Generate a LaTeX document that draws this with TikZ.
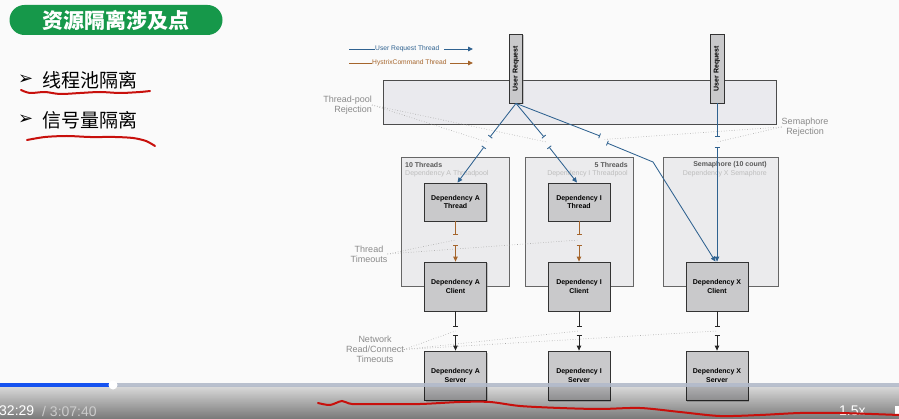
\documentclass[tikz,border=0pt]{standalone}
\usepackage{graphicx}
\usepackage{fontspec}
\setmainfont{Liberation Sans}
\newfontfamily\cjk{Noto Sans CJK SC}
\newfontfamily\dejavu{DejaVu Sans}
\usetikzlibrary{arrows.meta,shadows,fadings}
\definecolor{bgc}{HTML}{FAFAFA}
\definecolor{ttlgreen}{HTML}{16984A}
\definecolor{urblue}{HTML}{2F6290}
\definecolor{hxbrown}{HTML}{A5652C}
\definecolor{boxfill}{HTML}{C9C9CB}
\definecolor{grpfill}{HTML}{EBEBED}
\definecolor{poolfill}{HTML}{EAEAEE}
\definecolor{lbl}{HTML}{8A8A8A}
\definecolor{faint}{HTML}{BDBDBD}
\definecolor{pen}{HTML}{C8100C}
\definecolor{progblue}{HTML}{1552F0}
\definecolor{proggray}{HTML}{B2BACA}
\tikzset{
  shad/.style={drop shadow={shadow xshift=1.2pt, shadow yshift=-1.5pt, opacity=0.4}},
  innerbox/.style={draw=black!80, line width=0.8pt, fill=boxfill, minimum width=62pt, minimum height=38pt, inner sep=0pt, align=center, font=\fontsize{7}{8.5}\selectfont\bfseries, shad},
  grpbox/.style={draw=black!60, line width=0.8pt, fill=grpfill, minimum height=129pt, inner sep=0pt, shad},
  urbox/.style={draw=black!80, line width=0.8pt, fill=boxfill, minimum width=13pt, minimum height=69pt, inner sep=0pt, font=\fontsize{7}{7}\selectfont\bfseries, shad},
  bl/.style={draw=urblue, line width=0.85pt},
  br/.style={draw=hxbrown, line width=0.85pt},
  bk/.style={draw=black!85, line width=0.85pt},
  headarrow/.style={-{Triangle[length=5pt,width=4.5pt]}},
  rejbar/.style={-{Bar[width=5pt]}},
  rejhead/.style={{Bar[width=5pt]}-{Triangle[length=5pt,width=4.5pt]}},
  dots/.style={draw=black!35, dotted, line width=0.6pt},
  glabel/.style={text=lbl, font=\fontsize{9}{10}\selectfont, align=center, inner sep=0pt},
  grptitle/.style={text=black!65, font=\fontsize{7}{7}\selectfont\bfseries, inner sep=0pt},
  grpsub/.style={text=faint, font=\fontsize{7}{7}\selectfont, inner sep=0pt},
  penstroke/.style={draw=pen, line width=2pt, line cap=round},
}
\begin{document}
\begin{tikzpicture}[x=1pt,y=-1pt]
\useasboundingbox (0,0) rectangle (899,419);
\clip (0,0) rectangle (899,419);
\fill[bgc] (0,0) rectangle (899,419);

% ---- title and bullets
\node[fill=ttlgreen, rounded corners=15pt, minimum width=213pt, minimum height=30pt, inner sep=0pt,
      text=white, font=\cjk\bfseries\fontsize{21}{21}\selectfont] (title) at (116,20) {资源隔离涉及点};
\node[anchor=west, inner sep=0pt, font=\dejavu\fontsize{18}{18}\selectfont] (bul1) at (18,80) {➢};
\node[anchor=west, inner sep=0pt, font=\cjk\fontsize{19}{19}\selectfont] (txt1) at (42,80) {线程池隔离};
\node[anchor=west, inner sep=0pt, font=\dejavu\fontsize{18}{18}\selectfont] (bul2) at (18,120) {➢};
\node[anchor=west, inner sep=0pt, font=\cjk\fontsize{19}{19}\selectfont] (txt2) at (42,120) {信号量隔离};

% ---- legend
\coordinate (lu0) at (349,49); \coordinate (lu1) at (444,49); \coordinate (lu2) at (473,49);
\node[anchor=west, inner sep=0pt, text=urblue, font=\fontsize{6.7}{7}\selectfont] (lgu) at (375,49) {User Request Thread};
\draw[bl] (lu0) -- (lgu.west);
\draw[bl, headarrow] (lu1) -- (lu2);
\coordinate (lh0) at (349,63); \coordinate (lh1) at (450,63); \coordinate (lh2) at (473,63);
\node[anchor=west, inner sep=0pt, text=hxbrown, font=\fontsize{6.7}{7}\selectfont] (lgh) at (372,63) {HystrixCommand Thread};
\draw[br] (lh0) -- (lgh.west);
\draw[br, headarrow] (lh1) -- (lh2);

% ---- thread pool band and user requests
\node[draw=black!70, line width=0.8pt, fill=poolfill, minimum width=393pt, minimum height=44pt, inner sep=0pt, shad] (pool) at (579.5,102) {};
\node[urbox] (ur1) at (516,68.5) {\rotatebox{90}{User Request}};
\node[urbox, minimum width=14pt] (ur2) at (717,68.5) {\rotatebox{90}{User Request}};

% ---- groups
\node[grpbox, minimum width=108pt] (grpA) at (455,221.5) {};
\node[grpbox, minimum width=108pt] (grpI) at (579,221.5) {};
\node[grpbox, minimum width=115pt] (grpX) at (720.5,221.5) {};
\node[grptitle, anchor=west] (gAt) at (405,165) {10 Threads};
\node[grpsub, anchor=west] (gAs) at (405,173.5) {Dependency A Threadpool};
\node[grptitle, anchor=east] (gIt) at (628,165) {5 Threads};
\node[grpsub, anchor=east] (gIs) at (628,173.5) {Dependency I Threadpool};
\node[grptitle, anchor=east] (gXt) at (767,165) {Semaphore (10 count)};
\node[grpsub, anchor=east] (gXs) at (767,173.5) {Dependency X Semaphore};

% ---- inner boxes
\node[innerbox] (thrA) at (455.5,202) {Dependency A\\Thread};
\node[innerbox] (thrI) at (579,202) {Dependency I\\Thread};
\node[innerbox, minimum height=49pt] (cliA) at (455.5,286.5) {Dependency A\\Client};
\node[innerbox, minimum height=49pt] (cliI) at (579,286.5) {Dependency I\\Client};
\node[innerbox, minimum height=49pt] (cliX) at (717,286.5) {Dependency X\\Client};
\node[innerbox, minimum height=49pt] (srvA) at (455.5,375.5) {Dependency A\\Server};
\node[innerbox, minimum height=49pt] (srvI) at (579,375.5) {Dependency I\\Server};
\node[innerbox, minimum height=49pt] (srvX) at (717,375.5) {Dependency X\\Server};

% ---- labels
\node[glabel, anchor=east, align=right] (tpr) at (372,105) {Thread-pool\\Rejection};
\node[glabel] (smr) at (805,127) {Semaphore\\Rejection};
\node[glabel] (tto) at (369,254) {Thread\\Timeouts};
\node[glabel] (nto) at (375,349.5) {Network\\Read/Connect\\Timeouts};

% ---- gap coordinates
\coordinate (r1a) at (490,137); \coordinate (r1b) at (484,147); \coordinate (g1) at (487,142);
\coordinate (r2a) at (544,137); \coordinate (r2b) at (549,147); \coordinate (g2) at (546.5,142);
\coordinate (r3a) at (600,136); \coordinate (r3b) at (607,143); \coordinate (g3) at (603.5,139.5);
\coordinate (r3c) at (653,162);
\coordinate (r4a) at (717,137); \coordinate (r4b) at (717,147); \coordinate (g4) at (717,142);
\coordinate (tA1) at (455.5,235); \coordinate (tA2) at (455.5,245); \coordinate (gtA) at (455.5,240);
\coordinate (tI1) at (579,235); \coordinate (tI2) at (579,245); \coordinate (gtI) at (579,240);
\coordinate (nA1) at (455.5,327); \coordinate (nA2) at (455.5,335); \coordinate (gnA) at (455.5,331);
\coordinate (nI1) at (579,327); \coordinate (nI2) at (579,335); \coordinate (gnI) at (579,331);
\coordinate (nX1) at (717,327); \coordinate (nX2) at (717,335); \coordinate (gnX) at (717,331);

% ---- dotted timeouts / rejections
\draw[dots] (tpr.east) -- (g1);
\draw[dots] (tpr.east) -- (g2);
\draw[dots] (smr.west) -- (g4);
\draw[dots] (smr.west) -- (g3);
\draw[dots] (tto.east) -- (gtA);
\draw[dots] (tto.east) -- (gtI);
\draw[dots] (nto.east) -- (gnA);
\draw[dots] (nto.east) -- (gnI);
\draw[dots] (nto.east) -- (gnX);

% ---- user request arrows
\draw[bl, rejbar] (ur1.south) -- (r1a);
\draw[bl, rejhead] (r1b) -- ([xshift=2pt]thrA.north);
\draw[bl, rejbar] (ur1.south) -- (r2a);
\draw[bl, rejhead] (r2b) -- ([xshift=-2pt]thrI.north);
\draw[bl, rejbar] (ur1.south) -- (r3a);
\draw[bl, rejhead] (r3b) -- (r3c) -- ([xshift=-1.5pt]cliX.north);
\draw[bl, rejbar] (ur2.south) -- (r4a);
\draw[bl, rejhead] (r4b) -- (cliX.north);

% ---- hystrix thread arrows
\draw[br, rejbar] (thrA.south) -- (tA1);
\draw[br, rejhead] (tA2) -- (cliA.north);
\draw[br, rejbar] (thrI.south) -- (tI1);
\draw[br, rejhead] (tI2) -- (cliI.north);

% ---- network arrows
\draw[bk, rejbar] (cliA.south) -- (nA1);
\draw[bk, rejhead] (nA2) -- (srvA.north);
\draw[bk, rejbar] (cliI.south) -- (nI1);
\draw[bk, rejhead] (nI2) -- (srvI.north);
\draw[bk, rejbar] (cliX.south) -- (nX1);
\draw[bk, rejhead] (nX2) -- (srvX.north);

% ---- video player overlay
\fill[black, fill opacity=0.12] (0,386) rectangle (899,419);
\fill[black, fill opacity=0.45, path fading=north] (0,386) rectangle (899,419);
\fill[proggray, fill opacity=0.9] (0,383) rectangle (899,387);
\fill[progblue] (0,383) rectangle (113,387);
\fill[white] (113,385) circle (4.5pt);
\node[anchor=west, inner sep=0pt, text=white, font=\fontsize{14}{14}\selectfont] (tcur) at (-1,411) {32:29};
\node[anchor=west, inner sep=0pt, text=black!20, font=\fontsize{14}{14}\selectfont] (ttot) at (42,411) {/ 3:07:40};
\node[anchor=west, inner sep=0pt, text=white, font=\fontsize{14}{14}\selectfont] (speed) at (839,411) {1.5x};
\fill[white] (895,406) rectangle (899,414);

% ---- red pen strokes
\draw[penstroke] plot[smooth] coordinates {(21,90) (30,93) (45,92) (60,94) (80,93) (100,92) (120,93) (140,92) (150,91)};
\draw[penstroke] plot[smooth] coordinates {(27,140) (45,137) (67,136) (90,137) (115,137) (133,138) (146,141) (155,146)};
\draw[penstroke] plot[smooth] coordinates {(318,403) (330,405) (342,401) (352,404) (380,404) (420,404) (460,402) (490,402) (520,406) (560,408) (600,409) (640,408) (680,412) (720,416) (760,415) (800,413) (840,413) (899,415)};
\end{tikzpicture}
\end{document}
